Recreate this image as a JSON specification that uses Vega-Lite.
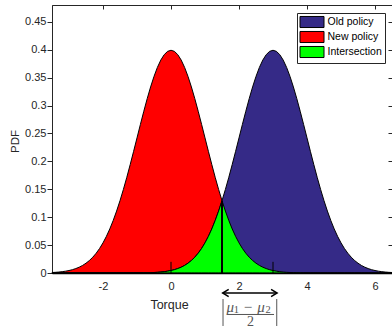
{
"$schema": "https://vega.github.io/schema/vega-lite/v6.json",
"width": 340, "height": 268,
"autosize": {"type": "none"},
"padding": {"left": 52, "top": 5, "right": 0, "bottom": 58},
"config": {
  "view": {"stroke": "#262626", "strokeWidth": 1},
  "font": "Liberation Sans",
  "axis": {"labelFont": "Liberation Sans", "titleFont": "Liberation Sans", "labelColor": "#262626", "titleColor": "#262626", "grid": false, "domainColor": "#262626", "tickColor": "#262626", "labelFontSize": 11, "titleFontSize": 12, "titleFontWeight": "normal"}
},
"datasets": {
  "pdf": [
    {"x":-3.5,"n":0.00087,"o":0,"i":0},
    {"x":-3.4,"n":0.00123,"o":0,"i":0},
    {"x":-3.3,"n":0.00172,"o":0,"i":0},
    {"x":-3.2,"n":0.00238,"o":0,"i":0},
    {"x":-3.1,"n":0.00327,"o":0,"i":0},
    {"x":-3.0,"n":0.00443,"o":0,"i":0},
    {"x":-2.9,"n":0.00595,"o":0,"i":0},
    {"x":-2.8,"n":0.00792,"o":0,"i":0},
    {"x":-2.7,"n":0.01042,"o":0,"i":0},
    {"x":-2.6,"n":0.01358,"o":0,"i":0},
    {"x":-2.5,"n":0.01753,"o":0,"i":0},
    {"x":-2.4,"n":0.02239,"o":0,"i":0},
    {"x":-2.3,"n":0.02833,"o":0,"i":0},
    {"x":-2.2,"n":0.03547,"o":0,"i":0},
    {"x":-2.1,"n":0.04398,"o":0,"i":0},
    {"x":-2.0,"n":0.05399,"o":0,"i":0},
    {"x":-1.9,"n":0.06562,"o":0,"i":0},
    {"x":-1.8,"n":0.07895,"o":0,"i":0},
    {"x":-1.7,"n":0.09405,"o":0.00001,"i":0.00001},
    {"x":-1.6,"n":0.11092,"o":0.00001,"i":0.00001},
    {"x":-1.5,"n":0.12952,"o":0.00002,"i":0.00002},
    {"x":-1.4,"n":0.14973,"o":0.00003,"i":0.00003},
    {"x":-1.3,"n":0.17137,"o":0.00004,"i":0.00004},
    {"x":-1.2,"n":0.19419,"o":0.00006,"i":0.00006},
    {"x":-1.1,"n":0.21785,"o":0.00009,"i":0.00009},
    {"x":-1.0,"n":0.24197,"o":0.00013,"i":0.00013},
    {"x":-0.9,"n":0.26609,"o":0.0002,"i":0.0002},
    {"x":-0.8,"n":0.28969,"o":0.00029,"i":0.00029},
    {"x":-0.7,"n":0.31225,"o":0.00042,"i":0.00042},
    {"x":-0.6,"n":0.33322,"o":0.00061,"i":0.00061},
    {"x":-0.5,"n":0.35207,"o":0.00087,"i":0.00087},
    {"x":-0.4,"n":0.36827,"o":0.00123,"i":0.00123},
    {"x":-0.3,"n":0.38139,"o":0.00172,"i":0.00172},
    {"x":-0.2,"n":0.39104,"o":0.00238,"i":0.00238},
    {"x":-0.1,"n":0.39695,"o":0.00327,"i":0.00327},
    {"x":0.0,"n":0.39894,"o":0.00443,"i":0.00443},
    {"x":0.1,"n":0.39695,"o":0.00595,"i":0.00595},
    {"x":0.2,"n":0.39104,"o":0.00792,"i":0.00792},
    {"x":0.3,"n":0.38139,"o":0.01042,"i":0.01042},
    {"x":0.4,"n":0.36827,"o":0.01358,"i":0.01358},
    {"x":0.5,"n":0.35207,"o":0.01753,"i":0.01753},
    {"x":0.6,"n":0.33322,"o":0.02239,"i":0.02239},
    {"x":0.7,"n":0.31225,"o":0.02833,"i":0.02833},
    {"x":0.8,"n":0.28969,"o":0.03547,"i":0.03547},
    {"x":0.9,"n":0.26609,"o":0.04398,"i":0.04398},
    {"x":1.0,"n":0.24197,"o":0.05399,"i":0.05399},
    {"x":1.1,"n":0.21785,"o":0.06562,"i":0.06562},
    {"x":1.2,"n":0.19419,"o":0.07895,"i":0.07895},
    {"x":1.3,"n":0.17137,"o":0.09405,"i":0.09405},
    {"x":1.4,"n":0.14973,"o":0.11092,"i":0.11092},
    {"x":1.5,"n":0.12952,"o":0.12952,"i":0.12952},
    {"x":1.6,"n":0.11092,"o":0.14973,"i":0.11092},
    {"x":1.7,"n":0.09405,"o":0.17137,"i":0.09405},
    {"x":1.8,"n":0.07895,"o":0.19419,"i":0.07895},
    {"x":1.9,"n":0.06562,"o":0.21785,"i":0.06562},
    {"x":2.0,"n":0.05399,"o":0.24197,"i":0.05399},
    {"x":2.1,"n":0.04398,"o":0.26609,"i":0.04398},
    {"x":2.2,"n":0.03547,"o":0.28969,"i":0.03547},
    {"x":2.3,"n":0.02833,"o":0.31225,"i":0.02833},
    {"x":2.4,"n":0.02239,"o":0.33322,"i":0.02239},
    {"x":2.5,"n":0.01753,"o":0.35207,"i":0.01753},
    {"x":2.6,"n":0.01358,"o":0.36827,"i":0.01358},
    {"x":2.7,"n":0.01042,"o":0.38139,"i":0.01042},
    {"x":2.8,"n":0.00792,"o":0.39104,"i":0.00792},
    {"x":2.9,"n":0.00595,"o":0.39695,"i":0.00595},
    {"x":3.0,"n":0.00443,"o":0.39894,"i":0.00443},
    {"x":3.1,"n":0.00327,"o":0.39695,"i":0.00327},
    {"x":3.2,"n":0.00238,"o":0.39104,"i":0.00238},
    {"x":3.3,"n":0.00172,"o":0.38139,"i":0.00172},
    {"x":3.4,"n":0.00123,"o":0.36827,"i":0.00123},
    {"x":3.5,"n":0.00087,"o":0.35207,"i":0.00087},
    {"x":3.6,"n":0.00061,"o":0.33322,"i":0.00061},
    {"x":3.7,"n":0.00042,"o":0.31225,"i":0.00042},
    {"x":3.8,"n":0.00029,"o":0.28969,"i":0.00029},
    {"x":3.9,"n":0.0002,"o":0.26609,"i":0.0002},
    {"x":4.0,"n":0.00013,"o":0.24197,"i":0.00013},
    {"x":4.1,"n":0.00009,"o":0.21785,"i":0.00009},
    {"x":4.2,"n":0.00006,"o":0.19419,"i":0.00006},
    {"x":4.3,"n":0.00004,"o":0.17137,"i":0.00004},
    {"x":4.4,"n":0.00003,"o":0.14973,"i":0.00003},
    {"x":4.5,"n":0.00002,"o":0.12952,"i":0.00002},
    {"x":4.6,"n":0.00001,"o":0.11092,"i":0.00001},
    {"x":4.7,"n":0.00001,"o":0.09405,"i":0.00001},
    {"x":4.8,"n":0,"o":0.07895,"i":0},
    {"x":4.9,"n":0,"o":0.06562,"i":0},
    {"x":5.0,"n":0,"o":0.05399,"i":0},
    {"x":5.1,"n":0,"o":0.04398,"i":0},
    {"x":5.2,"n":0,"o":0.03547,"i":0},
    {"x":5.3,"n":0,"o":0.02833,"i":0},
    {"x":5.4,"n":0,"o":0.02239,"i":0},
    {"x":5.5,"n":0,"o":0.01753,"i":0},
    {"x":5.6,"n":0,"o":0.01358,"i":0},
    {"x":5.7,"n":0,"o":0.01042,"i":0},
    {"x":5.8,"n":0,"o":0.00792,"i":0},
    {"x":5.9,"n":0,"o":0.00595,"i":0},
    {"x":6.0,"n":0,"o":0.00443,"i":0},
    {"x":6.1,"n":0,"o":0.00327,"i":0},
    {"x":6.2,"n":0,"o":0.00238,"i":0},
    {"x":6.3,"n":0,"o":0.00172,"i":0},
    {"x":6.4,"n":0,"o":0.00123,"i":0},
    {"x":6.5,"n":0,"o":0.00087,"i":0}
  ]
},
"resolve": {"axis": {"x": "independent", "y": "independent"}},
"layer": [
  {
    "data": {"name": "pdf"},
    "mark": {"type": "area", "stroke": "black", "strokeWidth": 1},
    "encoding": {
      "x": {"field": "x", "type": "quantitative", "scale": {"domain": [-3.5, 6.5], "nice": false, "zero": false},
            "axis": {"orient": "bottom", "title": "Torque", "values": [-2, 0, 2, 4, 6], "labelExpr": "'' + datum.value", "ticks": false, "tickSize": 0, "labelPadding": 7, "domainColor": "black", "domainWidth": 1.5, "zindex": 1, "titleX": 117, "titleY": 31, "titleBaseline": "middle", "titleAlign": "center", "titleFontSize": 12.5}},
      "y": {"field": "n", "type": "quantitative", "scale": {"domain": [0, 0.48], "nice": false},
            "axis": {"orient": "left", "title": "PDF", "values": [0, 0.05, 0.1, 0.15, 0.2, 0.25, 0.3, 0.35, 0.4, 0.45], "format": "~g", "tickSize": 5, "labelPadding": 1, "titleX": -37, "titleY": 136, "titleBaseline": "middle", "titleAlign": "center", "titleFontSize": 11.5}},
      "color": {"datum": "New policy", "type": "nominal",
                "scale": {"domain": ["Old policy", "New policy", "Intersection"], "range": ["#352A87", "#FF0000", "#00FF00"]},
                "legend": {"orient": "none", "legendX": 245, "legendY": 8, "title": null, "fillColor": "white", "strokeColor": "#262626", "padding": 2.5, "symbolType": "M-2,-0.92H2V0.92H-2Z", "symbolSize": 144, "symbolOffset": 6, "symbolStrokeColor": "black", "symbolStrokeWidth": 1, "symbolOpacity": 1, "labelFontSize": 10.5, "labelColor": "black", "labelOffset": 9, "rowPadding": -4, "labelFont": "Liberation Sans"}}
    }
  },
  {
    "data": {"name": "pdf"},
    "mark": {"type": "area", "stroke": "black", "strokeWidth": 1},
    "encoding": {
      "x": {"field": "x", "type": "quantitative", "axis": null},
      "y": {"field": "o", "type": "quantitative", "axis": null},
      "color": {"datum": "Old policy", "type": "nominal"}
    }
  },
  {
    "data": {"name": "pdf"},
    "mark": {"type": "area", "stroke": "black", "strokeWidth": 1},
    "encoding": {
      "x": {"field": "x", "type": "quantitative", "axis": null},
      "y": {"field": "i", "type": "quantitative", "axis": null},
      "color": {"datum": "Intersection", "type": "nominal"}
    }
  },
  {
    "data": {"values": [{"x": 0, "y": 0, "y2": 0.02}, {"x": 3, "y": 0, "y2": 0.02}]},
    "mark": {"type": "rule", "color": "black", "strokeWidth": 1},
    "encoding": {
      "x": {"field": "x", "type": "quantitative", "axis": {"orient": "top", "labels": false, "title": null, "domain": false, "tickSize": -4, "values": [-2, 0, 2, 4, 6]}},
      "y": {"field": "y", "type": "quantitative", "axis": {"orient": "right", "labels": false, "title": null, "domain": false, "tickSize": -4, "values": [0, 0.05, 0.1, 0.15, 0.2, 0.25, 0.3, 0.35, 0.4, 0.45]}},
      "y2": {"field": "y2"}
    }
  },
  {
    "data": {"values": [{"x": 1.5, "y": 0, "y2": 0.12952}]},
    "mark": {"type": "rule", "color": "black", "strokeWidth": 2},
    "encoding": {
      "x": {"field": "x", "type": "quantitative", "axis": null},
      "y": {"field": "y", "type": "quantitative", "axis": null},
      "y2": {"field": "y2"}
    }
  },
  {
    "data": {"values": [{"x": 1.52, "x2": 3.12, "y": -0.0358}]},
    "mark": {"type": "rule", "color": "black", "strokeWidth": 1.5},
    "encoding": {
      "x": {"field": "x", "type": "quantitative", "axis": null},
      "x2": {"field": "x2"},
      "y": {"field": "y", "type": "quantitative", "axis": null}
    }
  },
  {
    "data": {"values": [{"x": 1.52, "y": -0.0358}]},
    "mark": {"type": "point", "shape": "M1,-0.6L0,0L1,0.6", "size": 144, "filled": false, "color": "black", "strokeWidth": 1.5, "opacity": 1},
    "encoding": {
      "x": {"field": "x", "type": "quantitative", "axis": null},
      "y": {"field": "y", "type": "quantitative", "axis": null}
    }
  },
  {
    "data": {"values": [{"x": 3.12, "y": -0.0358}]},
    "mark": {"type": "point", "shape": "M-1,-0.6L0,0L-1,0.6", "size": 144, "filled": false, "color": "black", "strokeWidth": 1.5, "opacity": 1},
    "encoding": {
      "x": {"field": "x", "type": "quantitative", "axis": null},
      "y": {"field": "y", "type": "quantitative", "axis": null}
    }
  },
  {
    "data": {"values": [{"x": 1.53, "y": -0.0466, "y2": -0.0949}, {"x": 3.11, "y": -0.0466, "y2": -0.0949}]},
    "mark": {"type": "rule", "color": "#555555", "strokeWidth": 1},
    "encoding": {
      "x": {"field": "x", "type": "quantitative", "axis": null},
      "y": {"field": "y", "type": "quantitative", "axis": null},
      "y2": {"field": "y2"}
    }
  },
  {
    "data": {"values": [{"x": 1.65, "x2": 3.03, "y": -0.0743}]},
    "mark": {"type": "rule", "color": "#555555", "strokeWidth": 1},
    "encoding": {
      "x": {"field": "x", "type": "quantitative", "axis": null},
      "x2": {"field": "x2"},
      "y": {"field": "y", "type": "quantitative", "axis": null}
    }
  },
  {
    "data": {"values": [{"x": 1.74, "y": -0.0609, "t": "μ"}, {"x": 2.26, "y": -0.0609, "t": "−"}, {"x": 2.65, "y": -0.0609, "t": "μ"}]},
    "mark": {"type": "text", "font": "Liberation Serif", "fontStyle": "italic", "fontSize": 15, "color": "#555555", "baseline": "middle", "align": "center"},
    "encoding": {
      "x": {"field": "x", "type": "quantitative", "axis": null},
      "y": {"field": "y", "type": "quantitative", "axis": null},
      "text": {"field": "t"}
    }
  },
  {
    "data": {"values": [{"x": 1.92, "y": -0.0663, "t": "1"}, {"x": 2.86, "y": -0.0663, "t": "2"}]},
    "mark": {"type": "text", "font": "Liberation Serif", "fontSize": 10.5, "color": "#555555", "baseline": "middle", "align": "center"},
    "encoding": {
      "x": {"field": "x", "type": "quantitative", "axis": null},
      "y": {"field": "y", "type": "quantitative", "axis": null},
      "text": {"field": "t"}
    }
  },
  {
    "data": {"values": [{"x": 2.34, "y": -0.0878, "t": "2"}]},
    "mark": {"type": "text", "font": "Liberation Serif", "fontSize": 14, "color": "#555555", "baseline": "middle", "align": "center"},
    "encoding": {
      "x": {"field": "x", "type": "quantitative", "axis": null},
      "y": {"field": "y", "type": "quantitative", "axis": null},
      "text": {"field": "t"}
    }
  }
]
}
